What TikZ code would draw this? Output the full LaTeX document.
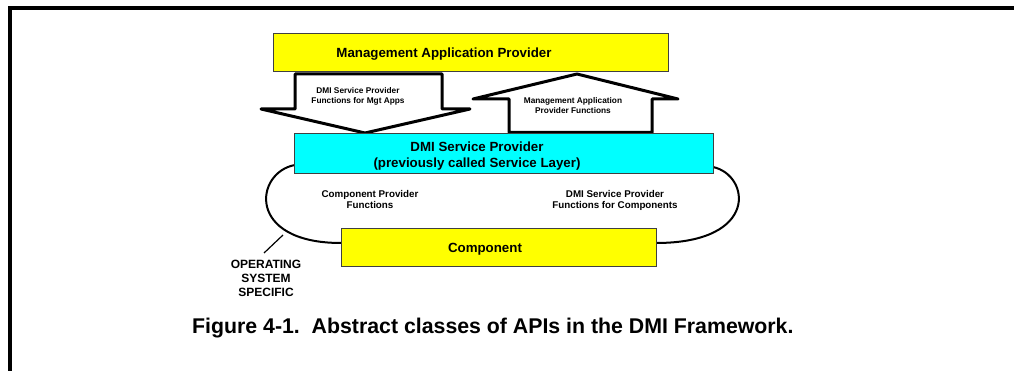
\documentclass[tikz,border=0pt]{standalone}
\usepackage{fontspec}
\setmainfont{Liberation Sans}
\definecolor{layeryellow}{RGB}{255,255,0}
\definecolor{layercyan}{RGB}{0,255,255}
\begin{document}
\begin{tikzpicture}[x=1pt,y=-1pt,
  layerbox/.style={draw=black!75,line width=1pt},
  blockarrow/.style={draw=black,line width=3pt,line join=round,fill=white},
  loopline/.style={draw=black,line width=2pt},
  lbl/.style={inner sep=0pt,align=center,font=\bfseries},
  big/.style={font=\bfseries\fontsize{13.3}{16}\selectfont},
  small/.style={font=\bfseries\fontsize{8.3}{10}\selectfont},
  mid/.style={font=\bfseries\fontsize{9.8}{11}\selectfont},
]
\useasboundingbox (0,0) rectangle (1014,371);
% page frame
\draw[line width=4pt] (10,371) -- (10,8) -- (1014,8);

% the curved boundary linking the service layer and the component
\coordinate (ltop) at (295,165);
\coordinate (lbot) at (341,243);
\coordinate (rtop) at (713,167);
\coordinate (rbot) at (656,243);
\draw[loopline] (ltop) .. controls (255,172) and (245,243) .. (lbot);
\draw[loopline] (rtop) .. controls (750,175) and (760,243) .. (rbot);

% block arrows between the two upper layers
\draw[blockarrow] (295,74) -- (442,74) -- (442,109) -- (470,109) -- (365,133)
  -- (261,109) -- (295,109) -- cycle;
\draw[blockarrow] (577,74) -- (678,99) -- (652,99) -- (652,132.5) -- (509,132.5)
  -- (509,99) -- (473,99) -- cycle;

% layers
\draw[layerbox,fill=layeryellow] (273,34) rectangle (668,72);
\draw[layerbox,fill=layercyan] (294,134) rectangle (713,174);
\draw[layerbox,fill=layeryellow] (341,229) rectangle (656,267);

% labels (base anchor sits on the last line of each label)
\node[lbl,big,anchor=base] (map) at (444,58) {Management Application Provider};
\node[lbl,small,anchor=base] (dmimgt) at (358,104) {DMI Service Provider\\Functions for Mgt Apps};
\node[lbl,small,anchor=base] (mapf) at (573,114) {Management Application\\Provider Functions};
\node[lbl,big,anchor=base] (dmi) at (477,168) {DMI Service Provider\\(previously called Service Layer)};
\node[lbl,mid,anchor=base] (cpf) at (370,209) {Component Provider\\Functions};
\node[lbl,mid,anchor=base] (dmic) at (615,209) {DMI Service Provider\\Functions for Components};
\node[lbl,big,anchor=base] (comp) at (485,253) {Component};
\node[lbl,font=\bfseries\fontsize{12}{14}\selectfont,anchor=base] (os) at (266,296) {OPERATING\\SYSTEM\\SPECIFIC};
\node[lbl,font=\bfseries\fontsize{21.3}{24}\selectfont,anchor=base west] (cap) at (192,333)
  {Figure 4-1.\ \ Abstract classes of APIs in the DMI Framework.};

% pointer from the OS-specific label to the boundary
\coordinate (ptr) at (283,235);
\coordinate (ptrend) at (264,253);
\draw[line width=1.2pt] (ptr) -- (ptrend);
\end{tikzpicture}
\end{document}
